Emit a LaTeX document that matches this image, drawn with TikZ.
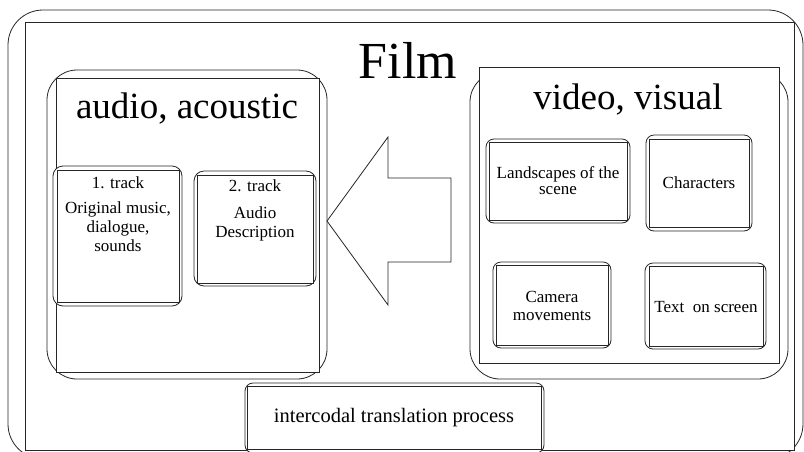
\documentclass[tikz,border=0pt]{standalone}
\usepackage{fontspec}
\setmainfont{Liberation Serif}
\begin{document}
\begin{tikzpicture}[x=1pt,y=-1pt,
  line width=0.8pt,
  rbox/.style={draw=black!85, fill=white, rounded corners=#1, inner sep=0pt, outer sep=0pt},
  rbox/.default=10pt,
  sbox/.style={draw=black!85, fill=white, inner sep=0pt, outer sep=0pt},
  small/.style={font=\fontsize{17}{19}\selectfont, anchor=base, inner sep=0pt},
  big/.style={font=\fontsize{37}{40}\selectfont, anchor=base, inner sep=0pt},
  arrowshape/.style={draw=black!85, fill=white, line width=0.8pt}
]
\useasboundingbox (0,0) rectangle (804,451);
% outer frame
\node[rbox=35pt, minimum width=795pt, minimum height=449pt] (outerR) at (405.5,234.5) {};
\node[sbox, minimum width=769pt, minimum height=428pt] (outerS) at (409.5,236) {};
\node[font=\fontsize{52}{56}\selectfont, anchor=base, inner sep=0pt] (film) at (408,78) {Film};
% audio box
\node[rbox=30pt, minimum width=280pt, minimum height=309pt] (audioR) at (187,224.5) {};
\node[sbox, minimum width=263pt, minimum height=294pt] (audioS) at (187.5,225) {};
\node[big] (audioT) at (187,118) {audio, acoustic};
% track 1
\node[rbox=10pt, minimum width=129pt, minimum height=140pt] (t1R) at (117.5,236) {};
\node[sbox, minimum width=122pt, minimum height=132pt] (t1S) at (118,236) {};
\node[small] (t1a) at (118,188) {1. track};
\node[small] (t1b) at (118,213) {Original music,};
\node[small] (t1c) at (118,232) {dialogue,};
\node[small] (t1d) at (118,251) {sounds};
% track 2
\node[rbox=10pt, minimum width=122pt, minimum height=115pt] (t2R) at (255,228.5) {};
\node[sbox, minimum width=116pt, minimum height=108pt] (t2S) at (255,229) {};
\node[small] (t2a) at (255,191) {2. track};
\node[small] (t2b) at (255,218) {Audio};
\node[small] (t2c) at (255,237) {Description};
% video box
\node[rbox=30pt, minimum width=318pt, minimum height=307pt] (videoR) at (629,225.5) {};
\node[sbox, minimum width=300pt, minimum height=296pt] (videoS) at (629,215) {};
\node[big] (videoT) at (628,109) {video, visual};
% landscapes
\node[rbox=8pt, minimum width=144pt, minimum height=84pt] (landR) at (558,181) {};
\node[sbox, minimum width=138pt, minimum height=78pt] (landS) at (558,181) {};
\node[small] (landa) at (558,178) {Landscapes of the};
\node[small] (landb) at (558,194) {scene};
% characters
\node[rbox=8pt, minimum width=106pt, minimum height=96pt] (charR) at (699,183) {};
\node[sbox, minimum width=100pt, minimum height=88pt] (charS) at (699,183) {};
\node[small] (chara) at (699,188) {Characters};
% camera
\node[rbox=8pt, minimum width=118pt, minimum height=86pt] (camR) at (552,305) {};
\node[sbox, minimum width=112pt, minimum height=80pt] (camS) at (552,305) {};
\node[small] (cama) at (552,302) {Camera};
\node[small] (camb) at (552,320) {movements};
% text on screen
\node[rbox=8pt, minimum width=121pt, minimum height=86pt] (txtR) at (705.5,306) {};
\node[sbox, minimum width=114pt, minimum height=80pt] (txtS) at (706,306) {};
\node[small] (txta) at (706,312) {Text\ \ on screen};
% intercodal
\node[rbox=8pt, minimum width=299pt, minimum height=70pt] (interR) at (394.5,418) {};
\node[sbox, minimum width=294pt, minimum height=63pt] (interS) at (394,417.5) {};
\node[font=\fontsize{20.5}{23}\selectfont, anchor=base, inner sep=0pt] (intera) at (394,422) {intercodal translation process};
% big hollow arrow
\draw[arrowshape] (327,221) -- (388,137) -- (388,178) -- (451,178) -- (451,262) -- (388,262) -- (388,305) -- cycle;
\end{tikzpicture}
\end{document}
